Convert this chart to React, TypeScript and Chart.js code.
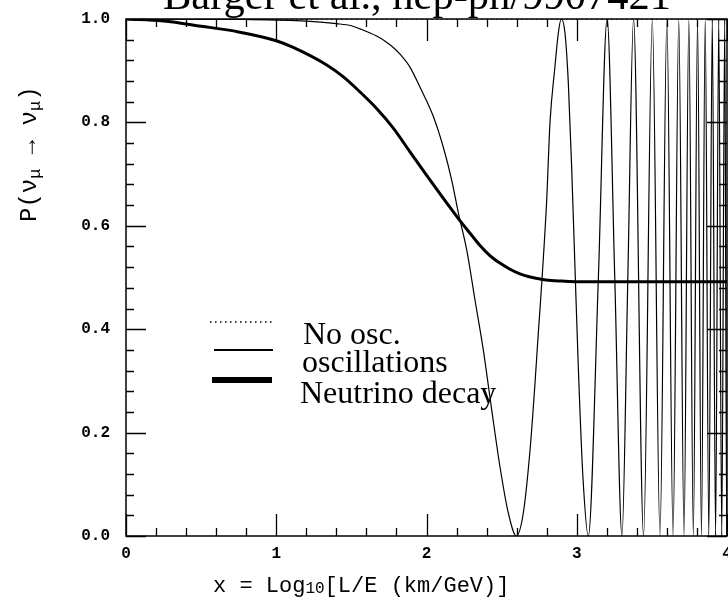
import { useEffect, useRef } from 'react';
import { Chart, registerables } from 'chart.js';

Chart.register(...registerables);

const TITLE = 'Barger et al., hep-ph/9907421';
const SERIES_LABELS = ['No osc.', 'oscillations', 'Neutrino decay'];

const X_MIN = 0;
const X_MAX = 4;
const Y_MIN = 0;
const Y_MAX = 1;
const xTickValues = [0, 1, 2, 3, 4];
const yTickValues = [0, 0.2, 0.4, 0.6, 0.8, 1.0];

// No oscillation: P = 1
const noOscX = [0, 4];
const noOscP = [1, 1];

// Oscillation curve
const oscX = [
  0, 0.8, 1.2, 1.4, 1.5, 1.557, 1.668, 1.72, 1.779, 1.83, 1.89, 1.957, 2.045, 2.112, 2.168, 2.212,
  2.268, 2.323, 2.378, 2.434, 2.489, 2.545, 2.598, 2.644, 2.689, 2.722, 2.744, 2.767,
  2.8, 2.822, 2.855, 2.877, 2.897, 2.922, 2.944, 2.966, 2.988, 3.01, 3.04, 3.077,
  3.144, 3.202, 3.253, 3.301, 3.34, 3.378, 3.445, 3.503, 3.554, 3.6, 3.641, 3.679,
  3.714, 3.746, 3.776, 3.804, 3.83, 3.855, 3.879, 3.902, 3.924, 3.945, 3.965, 3.985,
  3.998, 4.0,
];
const oscP = [
  1.0, 0.999, 0.996, 0.991, 0.987, 0.981, 0.967, 0.958, 0.945, 0.930, 0.907, 0.868, 0.812, 0.752, 0.688, 0.625,
  0.553, 0.456, 0.36, 0.244, 0.134, 0.044, 0.0, 0.044, 0.166, 0.295, 0.392, 0.489,
  0.65, 0.8, 0.908, 0.972, 1.0, 0.972, 0.876, 0.714, 0.521, 0.33, 0.12, 0.0,
  0.5, 1.0, 0.5, 0.0, 0.5, 1.0, 0.0, 1.0, 0.0, 1.0, 0.0, 1.0,
  0.0, 1.0, 0.0, 1.0, 0.0, 1.0, 0.0, 1.0, 0.0, 1.0, 0.0, 1.0,
  0.0, 0.03,
];

// Neutrino decay curve
const decayX = [
  0, 0.25, 0.5, 0.75, 1.0, 1.113, 1.336, 1.447, 1.557, 1.668, 1.779, 1.89, 2.0,
  2.112, 2.212, 2.3, 2.356, 2.42, 2.489, 2.55, 2.622, 2.69, 2.755, 2.83, 2.9, 3.0, 4.0,
];
const decayP = [
  1.0, 0.996, 0.986, 0.975, 0.958, 0.945, 0.911, 0.888, 0.859, 0.827, 0.789, 0.743, 0.698,
  0.653, 0.614, 0.582, 0.562, 0.543, 0.528, 0.517, 0.507, 0.501, 0.497, 0.494, 0.493, 0.492, 0.492,
];

const MONO = "'Liberation Mono', 'DejaVu Sans Mono', monospace";
const SERIF = "'Liberation Serif', 'Times New Roman', serif";

const toPts = (xs: number[], ys: number[]) => xs.map((x, i) => ({ x, y: ys[i] }));

const decorPlugin = {
  id: 'decor',
  afterDatasetsDraw(chart: any) {
    const { ctx, chartArea: a, scales } = chart;
    const xs = scales.x;
    const ys = scales.y;
    ctx.save();
    ctx.strokeStyle = '#000';
    ctx.lineWidth = 1.5;
    ctx.strokeRect(a.left, a.top, a.right - a.left, a.bottom - a.top);
    ctx.lineWidth = 1.3;
    ctx.beginPath();
    for (let i = 0; i <= 20; i++) {
      const px = Math.round(xs.getPixelForValue(X_MIN + (i * (X_MAX - X_MIN)) / 20)) + 0.5;
      const len = i % 5 === 0 ? 22 : 8;
      ctx.moveTo(px, a.bottom);
      ctx.lineTo(px, a.bottom - len);
      ctx.moveTo(px, a.top);
      ctx.lineTo(px, a.top + len);
    }
    for (let i = 0; i <= 25; i++) {
      const py = Math.round(ys.getPixelForValue(Y_MIN + (i * (Y_MAX - Y_MIN)) / 25)) + 0.5;
      const len = i % 5 === 0 ? 20 : 8;
      ctx.moveTo(a.left, py);
      ctx.lineTo(a.left + len, py);
      ctx.moveTo(a.right, py);
      ctx.lineTo(a.right - len, py);
    }
    ctx.stroke();
    ctx.restore();
  },
  afterDraw(chart: any) {
    const { ctx } = chart;
    const ds = chart.data.datasets;
    ctx.save();
    ctx.fillStyle = '#000';
    ctx.strokeStyle = '#000';
    ctx.textBaseline = 'alphabetic';
    ctx.textAlign = 'left';

    // Title
    ctx.font = `42.5px ${SERIF}`;
    ctx.fillText(TITLE, 163, 8.5);

    // X axis title with subscript
    const xParts: [string, number, number][] = [
      ['x = Log', 22, 0],
      ['10', 16, 1],
      ['[L/E (km/GeV)]', 22, 0],
    ];
    let cx = 213;
    for (const [t, sz, dy] of xParts) {
      ctx.font = `${sz}px ${MONO}`;
      ctx.fillText(t, cx, 592 + dy);
      cx += ctx.measureText(t).width;
    }

    // Y axis title, rotated
    ctx.save();
    ctx.translate(36, 222);
    ctx.rotate(-Math.PI / 2);
    const yParts: [string, number, number][] = [
      ['P(\u03BD', 24, 0],
      ['\u03BC', 17, 4],
      [' \u2192 ', 24, 0],
      ['\u03BD', 24, 0],
      ['\u03BC', 17, 4],
      [')', 24, 0],
    ];
    let cy = 0;
    for (const [t, sz, dy] of yParts) {
      ctx.font = `${sz}px ${MONO}`;
      ctx.fillText(t, cy, dy);
      cy += ctx.measureText(t).width;
    }
    ctx.restore();

    // Legend
    ctx.lineCap = 'butt';
    ctx.setLineDash([1.5, 3.5]);
    ctx.lineWidth = 1.5;
    ctx.beginPath();
    ctx.moveTo(210, 322);
    ctx.lineTo(272, 322);
    ctx.stroke();
    ctx.setLineDash([]);
    ctx.lineWidth = 2;
    ctx.beginPath();
    ctx.moveTo(214, 350);
    ctx.lineTo(273, 350);
    ctx.stroke();
    ctx.lineWidth = 6;
    ctx.beginPath();
    ctx.moveTo(212, 380);
    ctx.lineTo(272, 380);
    ctx.stroke();

    ctx.font = `32px ${SERIF}`;
    ctx.fillText(ds[0].label, 303, 344);
    ctx.fillText(ds[1].label, 302, 372);
    ctx.fillText(ds[2].label, 300, 403);
    ctx.restore();
  },
};

export default function App() {
  const ref = useRef<HTMLCanvasElement | null>(null);

  useEffect(() => {
    if (!ref.current) return;
    const chart = new Chart(ref.current, {
      type: 'line',
      data: {
        datasets: [
          {
            label: SERIES_LABELS[0],
            data: toPts(noOscX, noOscP),
            borderColor: '#000',
            borderWidth: 1.5,
            borderDash: [1.5, 3.5],
            pointRadius: 0,
          },
          {
            label: SERIES_LABELS[1],
            data: toPts(oscX, oscP),
            borderColor: '#000',
            borderWidth: 1.2,
            pointRadius: 0,
            cubicInterpolationMode: 'monotone',
          },
          {
            label: SERIES_LABELS[2],
            data: toPts(decayX, decayP),
            borderColor: '#000',
            borderWidth: 3,
            pointRadius: 0,
            cubicInterpolationMode: 'monotone',
          },
        ],
      },
      options: {
        animation: false,
        responsive: false,
        devicePixelRatio: 1,
        layout: { padding: { top: 19, right: 1, left: 0, bottom: 0 } },
        plugins: {
          legend: { display: false },
          title: { display: false },
          tooltip: { enabled: false },
        },
        scales: {
          x: {
            type: 'linear',
            min: X_MIN,
            max: X_MAX,
            afterBuildTicks: (s: any) => {
              s.ticks = xTickValues.map((v) => ({ value: v }));
            },
            ticks: {
              color: '#000',
              font: { family: MONO, size: 16, weight: 'bold' },
              padding: 8,
              maxRotation: 0,
              callback: (v: any) => String(v),
            },
            grid: { display: false, drawTicks: false },
            border: { display: false },
            afterFit: (s: any) => {
              s.height = 64;
              s.paddingLeft = 0;
              s.paddingRight = 0;
            },
          },
          y: {
            type: 'linear',
            min: Y_MIN,
            max: Y_MAX,
            afterBuildTicks: (s: any) => {
              s.ticks = yTickValues.map((v) => ({ value: v }));
            },
            ticks: {
              color: '#000',
              font: { family: MONO, size: 16, weight: 'bold' },
              padding: 16,
              callback: (v: any) => Number(v).toFixed(1),
            },
            grid: { display: false, drawTicks: false },
            border: { display: false },
            afterFit: (s: any) => {
              s.width = 126;
              s.paddingTop = 0;
              s.paddingBottom = 0;
            },
          },
        },
      },
      plugins: [decorPlugin],
    } as any);
    return () => chart.destroy();
  }, []);

  return (
    <div style={{ position: 'absolute', left: 0, top: 0, width: 728, height: 600, background: '#fff' }}>
      <canvas ref={ref} width={728} height={600} style={{ display: 'block', width: 728, height: 600 }} />
    </div>
  );
}
